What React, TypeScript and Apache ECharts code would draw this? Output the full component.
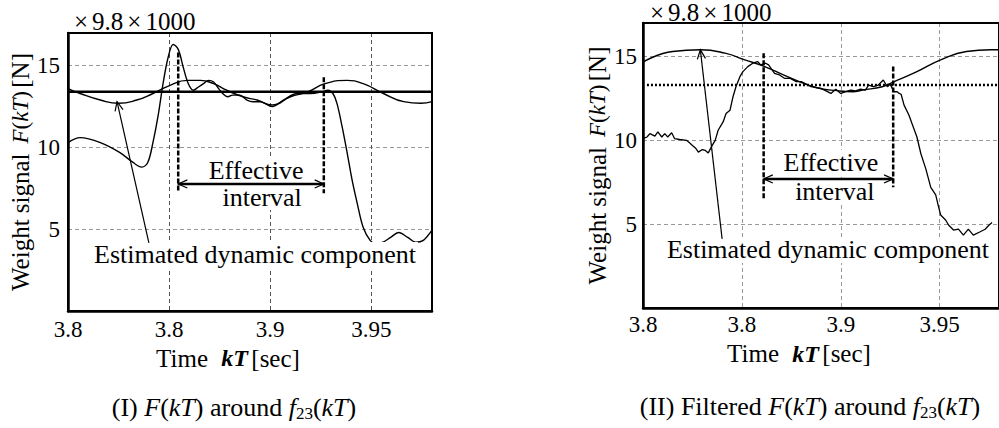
import React, { useEffect, useRef } from "react";
import * as echarts from "echarts";

// ---------- data ----------
const xTickLabels = ["3.8", "3.8", "3.9", "3.95"];
const xMax = 3.6;
const yMax = 17;

// Panel I: raw F(kT)
const rawX1 = [0.0, 0.12, 0.32, 0.51, 0.64, 0.73, 0.79, 0.84, 0.89, 0.94, 0.99, 1.04, 1.09, 1.14, 1.19, 1.24, 1.29, 1.34, 1.39, 1.44, 1.49, 1.53, 1.58, 1.63, 1.7, 1.77, 1.83, 1.9, 2.02, 2.13, 2.27, 2.4, 2.51, 2.57, 2.62, 2.66, 2.71, 2.76, 2.81, 2.86, 2.92, 2.99, 3.04, 3.11, 3.19, 3.27, 3.36, 3.44, 3.51, 3.6];
const rawY1 = [10.3, 10.6, 10.3, 9.7, 9.1, 8.8, 9.1, 10.3, 11.9, 13.9, 15.5, 16.3, 16.0, 14.9, 13.9, 13.5, 13.7, 13.9, 14.1, 14.0, 13.6, 13.3, 13.1, 13.2, 13.2, 12.9, 12.8, 12.8, 12.5, 12.9, 13.3, 13.3, 13.4, 13.5, 13.3, 12.7, 11.3, 9.7, 8.0, 6.6, 5.1, 4.3, 4.15, 4.2, 4.5, 4.8, 4.5, 4.2, 4.3, 4.95];
// Panel I: estimated dynamic component
const estX1 = [0.0, 0.12, 0.32, 0.5, 0.68, 0.84, 1.01, 1.18, 1.31, 1.44, 1.57, 1.73, 1.87, 2.02, 2.2, 2.37, 2.54, 2.76, 2.92, 3.12, 3.32, 3.49, 3.6];
const estY1 = [13.6, 13.3, 12.9, 12.7, 12.9, 13.3, 13.8, 14.1, 14.1, 13.9, 13.5, 13.1, 12.9, 12.6, 13.1, 13.4, 13.9, 14.1, 13.9, 13.3, 12.8, 12.7, 12.8];
const refLevel1 = 13.4;

// Panel II: filtered F(kT)
const filtX2 = [0.0, 0.04, 0.07, 0.12, 0.15, 0.19, 0.22, 0.25, 0.29, 0.32, 0.37, 0.44, 0.47, 0.5, 0.53, 0.56, 0.6, 0.63, 0.66, 0.7, 0.73, 0.76, 0.81, 0.84, 0.88, 0.91, 0.94, 0.98, 1.01, 1.06, 1.11, 1.16, 1.19, 1.24, 1.27, 1.33, 1.38, 1.43, 1.49, 1.55, 1.6, 1.65, 1.7, 1.75, 1.8, 1.85, 1.9, 1.95, 2.0, 2.05, 2.1, 2.15, 2.2, 2.25, 2.28, 2.33, 2.38, 2.43, 2.47, 2.5, 2.52, 2.54, 2.57, 2.59, 2.61, 2.64, 2.69, 2.72, 2.77, 2.81, 2.86, 2.91, 2.96, 2.99, 3.01, 3.06, 3.09, 3.14, 3.19, 3.24, 3.29, 3.34, 3.41, 3.46, 3.5, 3.53];
const filtY2 = [10.1, 10.2, 10.4, 10.25, 10.5, 10.2, 10.4, 10.2, 10.45, 10.1, 10.05, 10.0, 9.85, 9.7, 9.55, 9.3, 9.45, 9.4, 9.25, 9.7, 10.0, 10.6, 11.1, 11.6, 11.8, 12.6, 13.2, 13.8, 14.1, 14.4, 14.6, 14.7, 14.5, 14.6, 14.5, 14.0, 13.9, 13.7, 13.7, 13.5, 13.5, 13.35, 13.2, 13.15, 13.1, 12.95, 12.8, 13.05, 12.8, 12.9, 13.0, 12.95, 13.05, 13.0, 13.3, 13.2, 13.3, 13.6, 13.2, 13.35, 13.1, 12.9, 12.9, 12.8, 12.75, 12.1, 11.5, 11.0, 10.2, 9.2, 8.3, 7.2, 6.75, 6.0, 5.55, 5.25, 4.95, 4.65, 4.7, 4.35, 4.7, 4.35, 4.55, 4.7, 4.95, 5.1];
// Panel II: estimated dynamic component
const estX2 = [0.0, 0.3, 0.58, 0.83, 1.03, 1.23, 1.46, 1.75, 1.98, 2.12, 2.22, 2.42, 2.54, 2.77, 3.01, 3.27, 3.52, 3.6];
const estY2 = [14.67, 15.3, 15.4, 15.2, 14.8, 14.4, 13.8, 13.15, 12.95, 12.9, 13.0, 13.2, 13.5, 14.1, 14.8, 15.3, 15.4, 15.4];
const refLevel2 = 13.3;

// annotation anchors (data coordinates)
const effective1 = { xL: 1.09, topL: 15.8, botL: 7.3, xR: 2.53, topR: 14.3, botR: 7.2, arrowY: 7.77, text1: [1.86, 8.62], text2: [1.92, 6.97] };
const effective2 = { xL: 1.22, topL: 15.2, botL: 6.45, xR: 2.53, topR: 14.4, botR: 7.2, arrowY: 7.7, text1: [1.9, 8.66], text2: [1.94, 6.93] };
const callout1 = { from: [0.8, 4.16], to: [0.485, 12.8], text: [1.85, 3.43] };
const callout2 = { from: [0.8, 4.12], to: [0.58, 15.4], text: [1.87, 3.46] };

const zip = (xs: number[], ys: number[]) => xs.map((x, i) => [x, ys[i]]);

const SERIF = "Liberation Serif";

function chevron(tip: number[], from: number[], len = 10, ang = 0.42) {
  const dx = from[0] - tip[0];
  const dy = from[1] - tip[1];
  const L = Math.hypot(dx, dy) || 1;
  const ux = dx / L, uy = dy / L;
  const rot = (a: number) => [
    tip[0] + len * (ux * Math.cos(a) - uy * Math.sin(a)),
    tip[1] + len * (ux * Math.sin(a) + uy * Math.cos(a)),
  ];
  return {
    type: "polyline",
    shape: { points: [rot(ang), tip, rot(-ang)] },
    style: { stroke: "#000", fill: null, lineWidth: 1.2 },
  };
}

function makeRender(eff: any, call: any) {
  return (_params: any, api: any) => {
    const p = (x: number, y: number) => api.coord([x, y]);
    const textStyle = (t: string) => ({
      text: t,
      fontFamily: SERIF,
      fontSize: 26,
      fill: "#000",
      align: "center",
      verticalAlign: "middle",
      backgroundColor: "#fff",
      padding: [0, 2],
    });
    const t1 = p(eff.text1[0], eff.text1[1]);
    const t2 = p(eff.text2[0], eff.text2[1]);
    const tc = p(call.text[0], call.text[1]);
    const lTop = p(eff.xL, eff.topL), lBot = p(eff.xL, eff.botL);
    const rTop = p(eff.xR, eff.topR), rBot = p(eff.xR, eff.botR);
    const aL = p(eff.xL, eff.arrowY), aR = p(eff.xR, eff.arrowY);
    const cFrom = p(call.from[0], call.from[1]);
    const cTo = p(call.to[0], call.to[1]);
    const dashed = { stroke: "#000", lineWidth: 2.5, lineDash: [5, 2] };
    return {
      type: "group",
      children: [
        { type: "text", x: t1[0], y: t1[1], style: textStyle("Effective") },
        { type: "text", x: t2[0], y: t2[1], style: textStyle("interval") },
        { type: "text", x: tc[0], y: tc[1], style: textStyle("Estimated dynamic component") },
        { type: "line", shape: { x1: lTop[0], y1: lTop[1], x2: lBot[0], y2: lBot[1] }, style: dashed },
        { type: "line", shape: { x1: rTop[0], y1: rTop[1], x2: rBot[0], y2: rBot[1] }, style: dashed },
        { type: "line", shape: { x1: aL[0], y1: aL[1], x2: aR[0], y2: aR[1] }, style: { stroke: "#000", lineWidth: 2.5 } },
        chevron(aL, aR),
        chevron(aR, aL),
        { type: "line", shape: { x1: cFrom[0], y1: cFrom[1], x2: cTo[0], y2: cTo[1] }, style: { stroke: "#000", lineWidth: 1.2 } },
        chevron(cTo, cFrom),
      ],
    };
  };
}

const xLabelFmt = (v: number) => {
  const i = Math.round(v);
  return Math.abs(v - i) < 1e-6 && i >= 0 && i < xTickLabels.length ? xTickLabels[i] : "";
};
const yLabelFmt = (v: number) => (v > 0 && v % 5 === 0 ? String(v) : "");

const nameRich = {
  a: { fontFamily: SERIF, fontSize: 25, color: "#000" },
  i: { fontFamily: SERIF, fontStyle: "italic", fontSize: 23, color: "#000" },
  b: { fontFamily: SERIF, fontStyle: "italic", fontWeight: "bold", fontSize: 24, color: "#000" },
  p: { fontFamily: SERIF, fontSize: 23, color: "#000" },
};

function xAxisFor(gridIndex: number, splitColor: string, nameGap: number, labelMargin: number) {
  return {
    gridIndex,
    type: "value",
    min: 0,
    max: xMax,
    interval: 1,
    axisLine: { show: true, lineStyle: { color: "#000", width: 2.5 } },
    axisTick: { show: false },
    axisLabel: { formatter: xLabelFmt, fontFamily: SERIF, fontSize: 23, color: "#000", margin: labelMargin, showMaxLabel: false },
    splitLine: { show: true, showMinLine: false, showMaxLine: false, lineStyle: { color: splitColor, type: [4, 3], width: 1 } },
    name: "{a|Time}    {b|kT} {a|[sec]}",
    nameLocation: "middle",
    nameGap,
    nameTextStyle: { rich: nameRich, padding: [0, 44, 0, 0] },
  };
}

function yAxisFor(gridIndex: number, nameGap: number, labelMargin: number) {
  return {
    gridIndex,
    type: "value",
    min: 0,
    max: yMax,
    interval: 5,
    axisLine: { show: true, lineStyle: { color: "#000", width: 2.5 } },
    axisTick: { show: false },
    axisLabel: { formatter: yLabelFmt, fontFamily: SERIF, fontSize: 23, color: "#000", margin: labelMargin },
    splitLine: { show: true, showMinLine: false, showMaxLine: false, lineStyle: { color: "#999", type: [4, 3], width: 1 } },
    name: "{a|Weight signal}   {i|F}{p|(}{i|kT}{p|)} {a|[N]}",
    nameLocation: "middle",
    nameRotate: 90,
    nameGap,
    nameTextStyle: { rich: nameRich },
  };
}

const lineSeries = (xi: number, data: number[][], width: number, smooth: number | boolean, type: any = "solid") => ({
  type: "line",
  xAxisIndex: xi,
  yAxisIndex: xi,
  data,
  showSymbol: false,
  smooth,
  lineStyle: { color: "#000", width, type },
  silent: true,
});

const captionRich = {
  a: { fontFamily: SERIF, fontSize: 26, color: "#000", lineHeight: 30 },
  i: { fontFamily: SERIF, fontSize: 26, fontStyle: "italic", color: "#000", lineHeight: 30 },
  s: { fontFamily: SERIF, fontSize: 17, color: "#000", verticalAlign: "bottom" },
};

const multRich = {
  x: { fontFamily: SERIF, fontSize: 25, color: "#000", padding: [0, 4], lineHeight: 22 },
  n: { fontFamily: SERIF, fontSize: 25, color: "#000", lineHeight: 22 },
};
const multText = "{x|×}{n|9.8}{x|×}{n|1000}";

export default function App() {
  const ref = useRef<HTMLDivElement>(null);
  useEffect(() => {
    if (!ref.current) return;
    const chart = echarts.init(ref.current, undefined, { renderer: "svg" });
    const option: any = {
      animation: false,
      backgroundColor: "#fff",
      grid: [
        { left: 68, top: 33, width: 364, height: 278, show: true, borderColor: "#000", borderWidth: 2, backgroundColor: "transparent", z: 3 },
        { left: 643, top: 23, width: 364, height: 285, show: true, borderColor: "#000", borderWidth: 2, backgroundColor: "transparent", z: 3 },
      ],
      xAxis: [xAxisFor(0, "#555", 32, 7), xAxisFor(1, "#999", 33, 5)],
      yAxis: [yAxisFor(0, 32, 8), yAxisFor(1, 33, 6)],
      series: [
        lineSeries(0, [[0, refLevel1], [xMax, refLevel1]], 2.5, false),
        lineSeries(0, zip(rawX1, rawY1), 1.4, 0.35),
        lineSeries(0, zip(estX1, estY1), 1.4, 0.5),
        {
          type: "custom",
          xAxisIndex: 0,
          yAxisIndex: 0,
          data: [[0, 0]],
          clip: false,
          silent: true,
          z: 10,
          renderItem: makeRender(effective1, callout1),
        },
        lineSeries(1, [[0.04, refLevel2], [xMax, refLevel2]], 2.5, false, [2, 2]),
        lineSeries(1, zip(filtX2, filtY2), 1.3, false),
        lineSeries(1, zip(estX2, estY2), 1.4, 0.5),
        {
          type: "custom",
          xAxisIndex: 1,
          yAxisIndex: 1,
          data: [[0, 0]],
          clip: false,
          silent: true,
          z: 10,
          renderItem: makeRender(effective2, callout2),
        },
      ],
      graphic: [
        { type: "text", x: 70, y: 21, style: { text: multText, rich: multRich, verticalAlign: "middle" } },
        { type: "text", x: 646, y: 12, style: { text: multText, rich: multRich, verticalAlign: "middle" } },
        {
          type: "text",
          x: 234,
          y: 407,
          style: {
            text: "{a|(I) }{i|F}{a|(}{i|kT}{a|) around }{i|f}{s|23}{a|(}{i|kT}{a|)}",
            rich: captionRich,
            align: "center",
            verticalAlign: "middle",
          },
        },
        {
          type: "text",
          x: 810,
          y: 406,
          style: {
            text: "{a|(II) Filtered }{i|F}{a|(}{i|kT}{a|) around }{i|f}{s|23}{a|(}{i|kT}{a|)}",
            rich: captionRich,
            align: "center",
            verticalAlign: "middle",
          },
        },
      ],
    };
    chart.setOption(option);
    return () => chart.dispose();
  }, []);
  return <div ref={ref} style={{ position: "fixed", left: 0, top: 0, width: 999, height: 428, background: "#fff" }} />;
}
